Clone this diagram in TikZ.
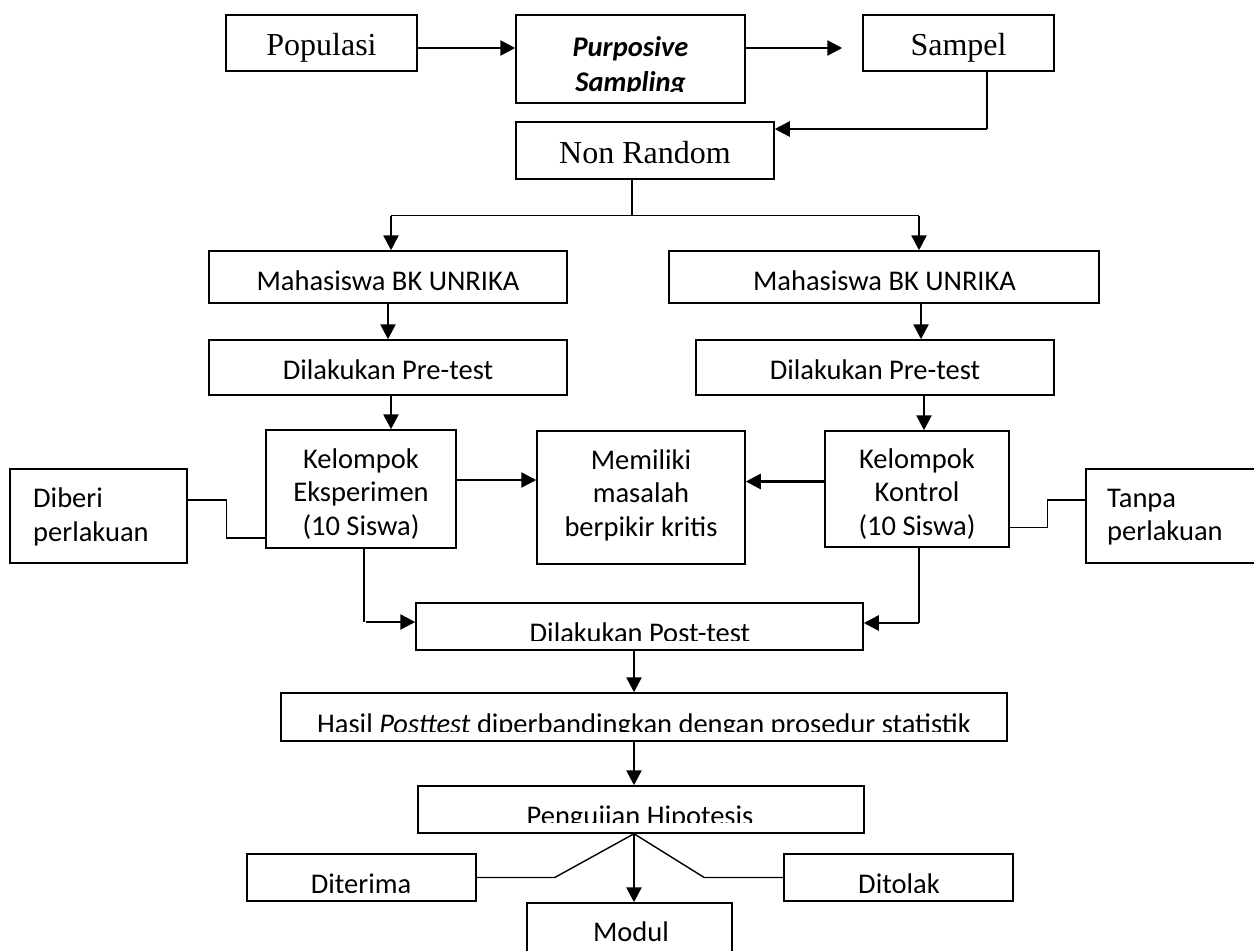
\documentclass[tikz,border=0pt]{standalone}
\usepackage{fontspec}
\setmainfont{Liberation Serif}
\newfontfamily\calfont{Carlito}
\usetikzlibrary{arrows.meta}
\begin{document}
\begin{tikzpicture}[x=1pt,y=-1pt,
  box/.style={draw, line width=1.5pt, inner sep=0pt, rectangle},
  ser/.style={font=\fontsize{32}{38}\selectfont, inner sep=0pt},
  cal/.style={font=\calfont\fontsize{28.5}{33.5}\selectfont, inner sep=0pt},
  calbi/.style={font=\calfont\bfseries\itshape\fontsize{28.5}{34.3}\selectfont, inner sep=0pt},
  ln/.style={line width=1.4pt},
  arr/.style={line width=2.6pt, -{Triangle[length=15pt,width=15pt]}},
]
\useasboundingbox (0,0) rectangle (1254,951);
\fill[white] (0,0) rectangle (1254,951);

% boxes
\node[box, minimum width=191pt, minimum height=56pt] (pop) at (321.5,43) {};
\node[box, minimum width=229pt, minimum height=88pt] (purp) at (630.5,59) {};
\node[box, minimum width=191pt, minimum height=56pt] (samp) at (958.5,43) {};
\node[box, minimum width=258pt, minimum height=57pt] (nonr) at (645,150.5) {};
\node[box, minimum width=358pt, minimum height=52pt] (mhsL) at (388,277) {};
\node[box, minimum width=430pt, minimum height=52pt] (mhsR) at (884,277) {};
\node[box, minimum width=358pt, minimum height=55pt] (preL) at (388,367.5) {};
\node[box, minimum width=358pt, minimum height=55pt] (preR) at (875,367.5) {};
\node[box, minimum width=190pt, minimum height=118pt] (eks) at (361,489) {};
\node[box, minimum width=208pt, minimum height=133pt] (mem) at (641,497.5) {};
\node[box, minimum width=184pt, minimum height=116pt] (kon) at (917,489) {};
\node[box, minimum width=177pt, minimum height=94pt] (diberi) at (98.5,516) {};
\node[box, minimum width=184pt, minimum height=94pt] (tanpa) at (1178,516) {};
\node[box, minimum width=447pt, minimum height=47pt] (post) at (639.5,626.5) {};
\node[box, minimum width=726pt, minimum height=48pt] (hasil) at (644,717) {};
\node[box, minimum width=446pt, minimum height=47pt] (peng) at (641,809.5) {};
\node[box, minimum width=229pt, minimum height=47pt] (dit) at (361.5,877.5) {};
\node[box, minimum width=229pt, minimum height=47pt] (tol) at (898.5,877.5) {};
\node[box, minimum width=205pt, minimum height=97pt] (modul) at (629.5,951.5) {};

% texts
\node[ser, anchor=base] (popT) at (321.5,55) {Populasi};
\node[ser, anchor=base] (sampT) at (958.5,55) {Sampel};
\node[ser, anchor=base] (nonrT) at (645,163) {Non Random};
\begin{scope}
  \clip (purp.north west) rectangle (745,91);
  \node[calbi, align=center] (purpT) at (630.5,66.5) {Purposive\\Sampling};
\end{scope}
\node[cal, anchor=base] (mhsLT) at (388,290) {Mahasiswa BK UNRIKA};
\node[cal, anchor=base] (mhsRT) at (884.5,290) {Mahasiswa BK UNRIKA};
\node[cal, anchor=base] (preLT) at (388,379.5) {Dilakukan Pre-test};
\node[cal, anchor=base] (preRT) at (875,379.5) {Dilakukan Pre-test};
\node[cal, align=center] (eksT) at (361,494) {Kelompok\\Eksperimen\\(10 Siswa)};
\node[cal, align=center] (memT) at (641,495) {Memiliki\\masalah\\berpikir kritis};
\node[cal, align=center] (konT) at (917,494) {Kelompok\\Kontrol\\(10 Siswa)};
\node[cal, align=left, anchor=west] (diberiT) at (33,517) {Diberi\\perlakuan};
\node[cal, align=left, anchor=west] (tanpaT) at (1107,517) {Tanpa\\perlakuan};
\begin{scope}
  \clip (post.north west) rectangle (863,640);
  \node[cal, anchor=base] (postT) at (640,642) {Dilakukan Post-test};
\end{scope}
\begin{scope}
  \clip (hasil.north west) rectangle (1007,731);
  \node[cal, anchor=base] (hasilT) at (644,733.4) {Hasil \textit{Posttest} diperbandingkan dengan prosedur statistik};
\end{scope}
\begin{scope}
  \clip (peng.north west) rectangle (864,822);
  \node[cal, anchor=base] (pengT) at (640,825.4) {Pengujian Hipotesis};
\end{scope}
\begin{scope}
  \clip (dit.north west) rectangle (1013,892);
  \node[cal, anchor=base] (ditT) at (361,893.4) {Diterima};
  \node[cal, anchor=base] (tolT) at (899,893.4) {Ditolak};
\end{scope}
\node[cal, anchor=base] (modulT) at (631,941.4) {Modul};

% helper coordinates
\coordinate (pe) at ([yshift=-5pt]pop.east);
\coordinate (sa) at ([xshift=-20pt,yshift=-5pt]samp.west);
\coordinate (sd) at ([xshift=28.5pt]samp.south);
\coordinate (ne) at ([yshift=21.5pt]nonr.east);
\coordinate (ns) at ([xshift=-13pt]nonr.south);
\coordinate (br) at ([yshift=-36pt]ns);
\coordinate (mlt) at ([xshift=3pt]mhsL.north);
\coordinate (mrt) at ([xshift=35pt]mhsR.north);
\coordinate (mrb) at ([xshift=37pt]mhsR.south);
\coordinate (plb) at ([xshift=3pt]preL.south);
\coordinate (prb) at ([xshift=49pt]preR.south);
\coordinate (em) at ([yshift=9pt]eks.east);
\coordinate (kw) at ([yshift=7.5pt]kon.west);
\coordinate (dbe) at ([yshift=16pt]diberi.east);
\coordinate (ekw) at ([yshift=-49pt]eks.west);
\coordinate (koe) at ([yshift=-38.5pt]kon.east);
\coordinate (taw) at ([yshift=16pt]tanpa.west);
\coordinate (es) at ([xshift=3pt]eks.south);
\coordinate (pin) at ([yshift=4.5pt]post.west);
\coordinate (ks) at ([xshift=2pt]kon.south);
\coordinate (pout) at ([yshift=3.5pt]post.east);
\coordinate (pob) at ([xshift=-5.5pt]post.south);
\coordinate (hb) at ([xshift=-10pt]hasil.south);
\coordinate (pb) at ([xshift=-7pt]peng.south);
\coordinate (dl) at ([xshift=78pt]dit.east);
\coordinate (dr) at ([xshift=-79pt]tol.west);

% connectors
\draw[arr] (pe) -- (pe -| purp.west);
\draw[arr] (purp.east |- sa) -- (sa);
\draw[ln] (sd) -- (sd |- ne);
\draw[arr] (sd |- ne) -- (ne);
\draw[ln] (ns) -- (br);
\draw[ln] (mlt |- br) -- (mrt |- br);
\draw[arr] (mlt |- br) -- (mlt);
\draw[arr] (mrt |- br) -- (mrt);
\draw[arr] (mhsL.south) -- (mhsL.south |- preL.north);
\draw[arr] (mrb) -- (mrb |- preR.north);
\draw[arr] (plb) -- (plb |- eks.north);
\draw[arr] (prb) -- (prb |- kon.north);
\draw[arr] (em) -- (em -| mem.west);
\draw[arr] (kw) -- (kw -| mem.east);
\draw[ln] (dbe) -- ++(39,0) |- (ekw);
\draw[ln] (koe) -- ++(38,0) |- (taw);
\draw[ln] (es) -- (es |- pin);
\draw[arr] ([xshift=2pt]es |- pin) -- (pin);
\draw[ln] (ks) -- (ks |- pout);
\draw[arr] (ks |- pout) -- (pout);
\draw[arr] (pob) -- (pob |- hasil.north);
\draw[arr] (hb) -- (hb |- peng.north);
\draw[arr] (pb) -- (pb |- modul.north);
\draw[ln] (pb) -- (dl) -- (dit.east);
\draw[ln] (pb) -- (dr) -- (tol.west);
\end{tikzpicture}
\end{document}
